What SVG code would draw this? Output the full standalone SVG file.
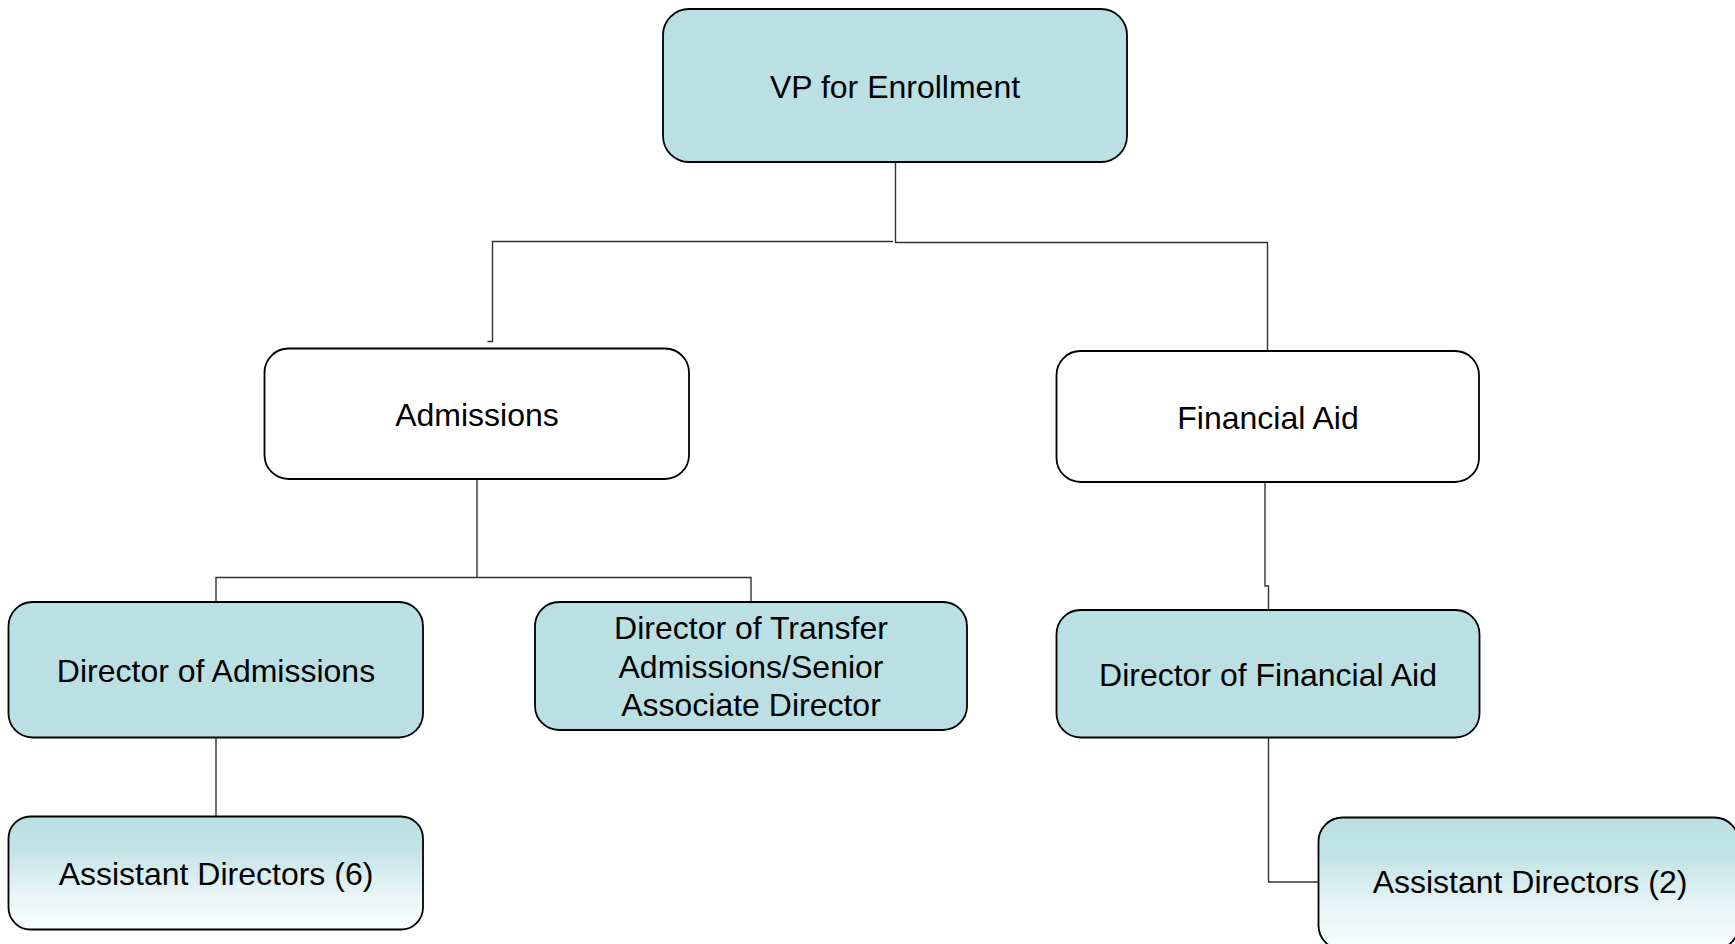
<svg xmlns="http://www.w3.org/2000/svg" width="1735" height="944" viewBox="0 0 1735 944">
  <style>
    .box { stroke: #000; stroke-width: 1.8; }
    .teal { fill: #bae0e4; }
    .white { fill: #ffffff; }
    .grad { fill: url(#fade); }
    .lbl { font-family: "Liberation Sans", Arial, sans-serif; font-size: 32px; fill: #000; text-anchor: middle; }
    .conn { fill: none; stroke: #333; stroke-width: 1.4; }
  </style>
  <defs>
    <linearGradient id="fade" x1="0" y1="0" x2="0" y2="1">
      <stop offset="0" stop-color="#b9dfe3"/>
      <stop offset="0.3" stop-color="#c3e4e7"/>
      <stop offset="0.7" stop-color="#eaf5f6"/>
      <stop offset="1" stop-color="#fafdfd"/>
    </linearGradient>
  </defs>
  <rect width="1735" height="944" fill="#ffffff"/>

  <g id="connectors">
    <path class="conn" d="M895.5,162 V242.5 H1267.5 V350.5"/>
    <path class="conn" d="M893,241.5 H492.5 V341.5 H487.5"/>
    <path class="conn" d="M477,479 V577.5"/>
    <path class="conn" d="M216,602 V577.5 H751 V602"/>
    <path class="conn" d="M1265,482 V586 H1268.5 V610"/>
    <path class="conn" d="M216,737.5 V816"/>
    <path class="conn" d="M1268.5,737.5 V882 H1318.5"/>
  </g>

  <g id="vp-enrollment">
    <rect class="box teal" x="663" y="9" width="464" height="153" rx="26" ry="26"/>
    <text class="lbl" x="895" y="98">VP for Enrollment</text>
  </g>

  <g id="admissions">
    <rect class="box white" x="264.5" y="348.5" width="424.5" height="130.5" rx="24" ry="24"/>
    <text class="lbl" x="477" y="426">Admissions</text>
  </g>

  <g id="financial-aid">
    <rect class="box white" x="1056.5" y="351" width="422.5" height="131" rx="24" ry="24"/>
    <text class="lbl" x="1268" y="429">Financial Aid</text>
  </g>

  <g id="director-admissions">
    <rect class="box teal" x="8.5" y="602" width="414.5" height="135.5" rx="24" ry="24"/>
    <text class="lbl" x="216" y="682">Director of Admissions</text>
  </g>

  <g id="director-transfer">
    <rect class="box teal" x="535" y="602" width="432" height="128" rx="24" ry="24"/>
    <text class="lbl" x="751" y="639">Director of Transfer</text>
    <text class="lbl" x="751" y="677.5">Admissions/Senior</text>
    <text class="lbl" x="751" y="716">Associate Director</text>
  </g>

  <g id="director-financial-aid">
    <rect class="box teal" x="1056.5" y="610" width="423" height="127.5" rx="24" ry="24"/>
    <text class="lbl" x="1268" y="686">Director of Financial Aid</text>
  </g>

  <g id="assistant-directors-6">
    <rect class="box grad" x="8.5" y="816.5" width="414.5" height="113" rx="22" ry="22"/>
    <text class="lbl" x="216" y="885">Assistant Directors (6)</text>
  </g>

  <g id="assistant-directors-2">
    <rect class="box grad" x="1318.5" y="817.5" width="420" height="132" rx="24" ry="24"/>
    <text class="lbl" x="1530" y="893">Assistant Directors (2)</text>
  </g>
</svg>
